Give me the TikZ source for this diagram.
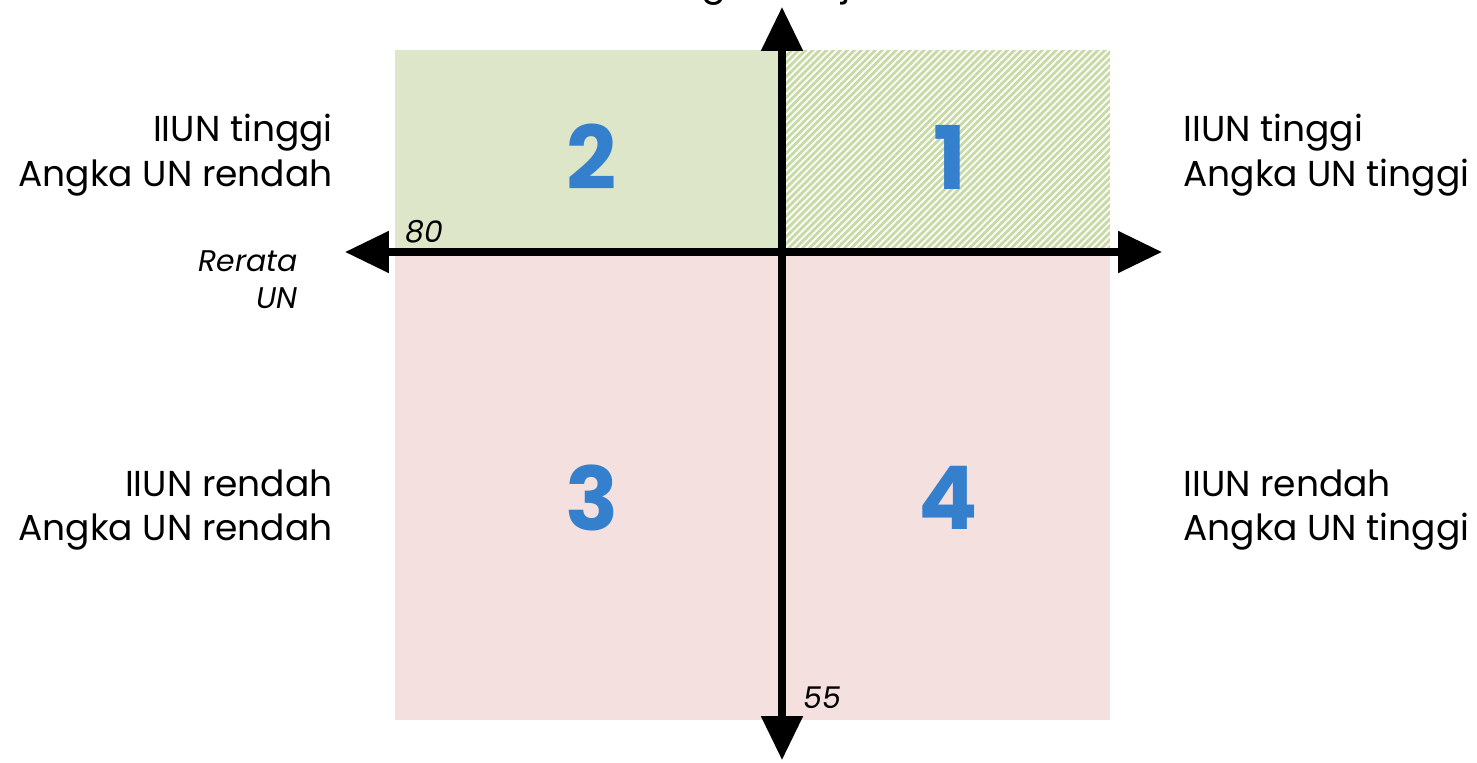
\documentclass[tikz,border=0pt]{standalone}
\usepackage{fontspec}
\setmainfont{Poppins}
\usetikzlibrary{arrows.meta,patterns.meta}
\definecolor{quadgreen}{RGB}{221,230,200}
\definecolor{hatchgreen}{RGB}{200,218,165}
\definecolor{quadpink}{RGB}{244,225,223}
\definecolor{numblue}{RGB}{52,128,204}

\begin{document}
\begin{tikzpicture}[x=0.02cm, y=0.02cm,
  quadnum/.style={font=\fontsize{50}{50}\selectfont\bfseries, text=numblue},
  quadlabel/.style={font=\fontsize{20.5}{25.5}\selectfont, text=black, inner sep=0pt},
  axislabel/.style={font=\fontsize{17}{21}\selectfont\itshape, text=black},
  axisline/.style={line width=4pt, {Triangle[length=25pt,width=23pt]}-{Triangle[length=25pt,width=23pt]}}]
  \useasboundingbox (0,0) rectangle (1477,762);

  % Quadrant fills
  \fill[quadgreen] (395,510) rectangle (782,712);
  \fill[hatchgreen] (782,510) rectangle (1110,712);
  \fill[pattern={Lines[angle=45, distance=2.8pt, line width=1pt]}, pattern color=white]
    (782,510) rectangle (1110,712);
  \fill[quadpink] (395,42) rectangle (1110,510);

  % Axes
  \coordinate (xleft) at (345,510);
  \coordinate (xright) at (1162,510);
  \coordinate (ytop) at (782,755);
  \coordinate (ybottom) at (782,2);
  \draw[axisline] (xleft) -- (xright);
  \draw[axisline] (ybottom) -- (ytop);

  % Axis labels
  \node[font=\fontsize{21}{25.5}\selectfont, anchor=base] (ylab) at (770,766) {Integritas Ujian};
  \node[axislabel, align=right, anchor=east] (xlab) at (304,482) {Rerata\\UN};
  \node[axislabel] (xval) at (424,530) {80};
  \node[axislabel] (yval) at (822,64) {55};

  % Quadrant numbers
  \node[quadnum] (q2) at (592,605) {2};
  \node[quadnum] (q1) at (950,605) {1};
  \node[quadnum] (q3) at (592,264) {3};
  \node[quadnum] (q4) at (948,264) {4};

  % Quadrant descriptions
  \node[quadlabel, align=right, anchor=east] (d2) at (333,607) {IIUN tinggi\\Angka UN rendah};
  \node[quadlabel, align=left, anchor=west] (d1) at (1183,607) {IIUN tinggi\\Angka UN tinggi};
  \node[quadlabel, align=right, anchor=east] (d3) at (333,252) {IIUN rendah\\Angka UN rendah};
  \node[quadlabel, align=left, anchor=west] (d4) at (1183,252) {IIUN rendah\\Angka UN tinggi};
\end{tikzpicture}
\end{document}
